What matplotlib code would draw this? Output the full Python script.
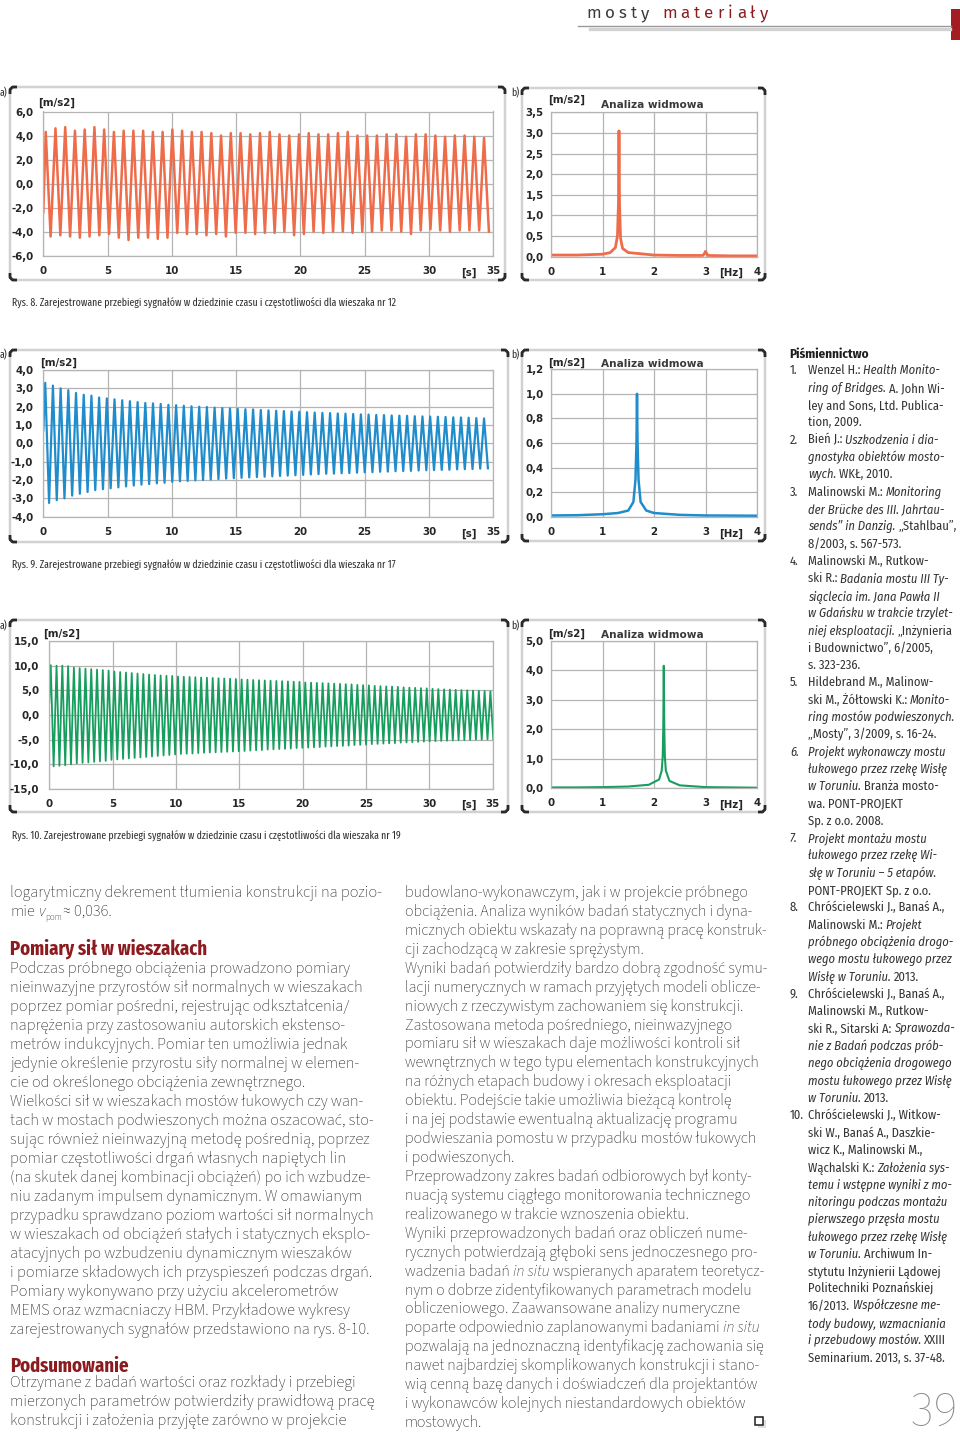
import numpy as np
import matplotlib
matplotlib.use("Agg")
import matplotlib.pyplot as plt
from matplotlib.patches import FancyBboxPatch, Rectangle

plt.rcParams['font.family'] = ['DejaVu Sans']

W, H = 960, 1435

# ---------------- data ----------------
# Rys. 8 - wieszak nr 12 (1,32 Hz)
freq8 = 1.32
start8 = -2.4
peaks8 = [4.3, 4.6, 4.7, 4.4, 4.5, 4.7, 4.5, 4.3, 4.4, 4.4,
          4.4, 4.3, 4.3, 4.5, 4.4, 4.3, 4.3, 4.2, 4.0, 4.2,
          4.2, 4.1, 4.2, 4.3, 4.1, 4.0, 4.1, 4.2, 4.1, 4.1,
          4.2, 4.3, 4.0, 4.0, 4.0, 4.1, 4.1, 3.9, 4.1, 4.1,
          4.0, 3.9, 4.0, 4.0, 3.9, 3.8]
troughs8 = [-4.4, -4.3, -4.4, -4.5, -4.4, -4.3, -4.2, -4.5, -4.7, -4.5,
            -4.5, -4.6, -4.5, -4.1, -4.2, -4.2, -4.3, -4.2, -4.4, -4.1,
            -4.1, -4.2, -4.1, -4.1, -4.0, -4.3, -4.2, -4.0, -4.1, -4.0,
            -4.0, -4.1, -4.0, -4.0, -3.9, -3.9, -4.0, -4.2, -3.9, -3.8,
            -3.9, -4.0, -3.9, -3.9, -3.9, -4.0]
spec8_f = [0, 0.5, 1.0, 1.15, 1.25, 1.29, 1.31, 1.32, 1.33, 1.35, 1.39, 1.5, 2.0, 2.5,
           2.95, 2.98, 3.0, 3.02, 3.05, 3.5, 4.0]
spec8_a = [0.04, 0.04, 0.06, 0.1, 0.22, 0.5, 1.3, 3.05, 1.3, 0.45, 0.2, 0.1, 0.04, 0.03,
           0.03, 0.08, 0.13, 0.08, 0.03, 0.02, 0.02]

# Rys. 9 - wieszak nr 17 (1,67 Hz)
freq9 = 1.67
start9 = 0.7
peaks9 = [3.30, 3.15, 3.00, 2.90, 2.75, 2.65, 2.60, 2.50, 2.45, 2.40,
          2.35, 2.30, 2.25, 2.20, 2.18, 2.15, 2.10, 2.08, 2.05, 2.02,
          2.00, 1.98, 1.95, 1.92, 1.90, 1.88, 1.86, 1.85, 1.82, 1.80,
          1.78, 1.76, 1.74, 1.72, 1.70, 1.68, 1.66, 1.65, 1.63, 1.62,
          1.60, 1.58, 1.57, 1.55, 1.54, 1.52, 1.51, 1.50, 1.48, 1.47,
          1.46, 1.45, 1.44, 1.42, 1.41, 1.40, 1.38, 1.36]
troughs9 = [-3.25, -3.10, -3.00, -2.85, -2.75, -2.65, -2.55, -2.50, -2.45, -2.40,
            -2.35, -2.30, -2.25, -2.22, -2.18, -2.15, -2.10, -2.07, -2.05, -2.02,
            -2.00, -1.97, -1.95, -1.92, -1.90, -1.88, -1.86, -1.84, -1.82, -1.80,
            -1.78, -1.76, -1.74, -1.72, -1.70, -1.68, -1.66, -1.65, -1.63, -1.62,
            -1.60, -1.58, -1.57, -1.55, -1.54, -1.52, -1.51, -1.50, -1.48, -1.47,
            -1.46, -1.45, -1.44, -1.42, -1.41, -1.40, -1.38, -1.36]
spec9_f = [0, 0.5, 1.0, 1.3, 1.5, 1.6, 1.64, 1.66, 1.67, 1.68, 1.70, 1.74, 1.85, 2.0, 2.5, 3.0, 4.0]
spec9_a = [0.01, 0.012, 0.02, 0.03, 0.05, 0.12, 0.3, 0.6, 1.0, 0.6, 0.3, 0.12, 0.05, 0.03, 0.015, 0.01, 0.008]

# Rys. 10 - wieszak nr 19 (2,19 Hz)
freq10 = 2.19
start10 = 2.5
peaks10 = [10.1, 10.0, 10.0, 9.9, 9.6, 9.5, 9.4, 9.3, 9.2, 9.1, 9.0,
           8.8, 8.7, 8.6, 8.5, 8.4, 8.3, 8.2, 8.1, 8.0, 7.95, 7.9,
           7.8, 7.75, 7.7, 7.65, 7.6, 7.55, 7.5, 7.45, 7.4, 7.35, 7.3,
           7.2, 7.15, 7.1, 7.05, 7.0, 6.95, 6.9, 6.85, 6.8, 6.75, 6.7,
           6.6, 6.55, 6.5, 6.45, 6.4, 6.35, 6.3, 6.25, 6.2, 6.1, 6.05,
           6.0, 5.9, 5.85, 5.8, 5.75, 5.7, 5.6, 5.55, 5.5, 5.45, 5.4,
           5.3, 5.25, 5.2, 5.15, 5.1, 5.05, 5.0, 4.95, 4.9, 4.85, 4.8]
troughs10 = [-10.4, -10.3, -10.2, -10.0, -9.8, -9.7, -9.6, -9.5, -9.4, -9.3, -9.1,
             -9.0, -8.9, -8.8, -8.7, -8.6, -8.5, -8.4, -8.3, -8.2, -8.1, -8.0,
             -7.9, -7.85, -7.8, -7.7, -7.65, -7.6, -7.55, -7.5, -7.45, -7.4, -7.35,
             -7.3, -7.2, -7.15, -7.1, -7.0, -6.95, -6.9, -6.85, -6.8, -6.7, -6.65,
             -6.6, -6.55, -6.5, -6.4, -6.35, -6.3, -6.25, -6.2, -6.1, -6.05, -6.0,
             -5.9, -5.85, -5.8, -5.75, -5.7, -5.6, -5.55, -5.5, -5.45, -5.4, -5.35,
             -5.3, -5.25, -5.2, -5.15, -5.1, -5.1, -5.05, -5.0, -5.0, -4.95, -4.9]
spec10_f = [0, 0.5, 1.0, 1.5, 1.9, 2.1, 2.15, 2.17, 2.18, 2.19, 2.2, 2.21, 2.23, 2.3, 2.5, 3.0, 4.0]
spec10_a = [0.03, 0.03, 0.04, 0.06, 0.12, 0.3, 0.6, 1.1, 2.0, 4.15, 2.0, 1.1, 0.6, 0.25, 0.1, 0.04, 0.02]

time_ticks = [0, 5, 10, 15, 20, 25, 30, 35]
freq_ticks = [0, 1, 2, 3, 4]
yticks8 = [-6, -4, -2, 0, 2, 4, 6]
yticks8s = [0, 0.5, 1.0, 1.5, 2.0, 2.5, 3.0, 3.5]
yticks9 = [-4, -3, -2, -1, 0, 1, 2, 3, 4]
yticks9s = [0, 0.2, 0.4, 0.6, 0.8, 1.0, 1.2]
yticks10 = [-15, -10, -5, 0, 5, 10, 15]
yticks10s = [0, 1, 2, 3, 4, 5]
peak_labels = ["1,32", "1,67", "2,19"]

captions = [
    "Rys. 8. Zarejestrowane przebiegi sygnałów w dziedzinie czasu i częstotliwości dla wieszaka nr 12",
    "Rys. 9. Zarejestrowane przebiegi sygnałów w dziedzinie czasu i częstotliwości dla wieszaka nr 17",
    "Rys. 10. Zarejestrowane przebiegi sygnałów w dziedzinie czasu i częstotliwości dla wieszaka nr 19",
]

# '|' toggles italic
col1_top = ["logarytmiczny dekrement tłumienia konstrukcji na pozio-"]
col1_p1 = [
    "Podczas próbnego obciążenia prowadzono pomiary",
    "nieinwazyjne przyrostów sił normalnych w wieszakach",
    "poprzez pomiar pośredni, rejestrując odkształcenia/",
    "naprężenia przy zastosowaniu autorskich ekstenso-",
    "metrów indukcyjnych. Pomiar ten umożliwia jednak",
    "jedynie określenie przyrostu siły normalnej w elemen-",
    "cie od określonego obciążenia zewnętrznego.",
    "Wielkości sił w wieszakach mostów łukowych czy wan-",
    "tach w mostach podwieszonych można oszacować, sto-",
    "sując również nieinwazyjną metodę pośrednią, poprzez",
    "pomiar częstotliwości drgań własnych napiętych lin",
    "(na skutek danej kombinacji obciążeń) po ich wzbudze-",
    "niu zadanym impulsem dynamicznym. W omawianym",
    "przypadku sprawdzano poziom wartości sił normalnych",
    "w wieszakach od obciążeń stałych i statycznych eksplo-",
    "atacyjnych po wzbudzeniu dynamicznym wieszaków",
    "i pomiarze składowych ich przyspieszeń podczas drgań.",
    "Pomiary wykonywano przy użyciu akcelerometrów",
    "MEMS oraz wzmacniaczy HBM. Przykładowe wykresy",
    "zarejestrowanych sygnałów przedstawiono na rys. 8-10.",
]
col1_p2 = [
    "Otrzymane z badań wartości oraz rozkłady i przebiegi",
    "mierzonych parametrów potwierdziły prawidłową pracę",
    "konstrukcji i założenia przyjęte zarówno w projekcie",
]
col2 = [
    "budowlano-wykonawczym, jak i w projekcie próbnego",
    "obciążenia. Analiza wyników badań statycznych i dyna-",
    "micznych obiektu wskazały na poprawną pracę konstruk-",
    "cji zachodzącą w zakresie sprężystym.",
    "Wyniki badań potwierdziły bardzo dobrą zgodność symu-",
    "lacji numerycznych w ramach przyjętych modeli oblicze-",
    "niowych z rzeczywistym zachowaniem się konstrukcji.",
    "Zastosowana metoda pośredniego, nieinwazyjnego",
    "pomiaru sił w wieszakach daje możliwości kontroli sił",
    "wewnętrznych w tego typu elementach konstrukcyjnych",
    "na różnych etapach budowy i okresach eksploatacji",
    "obiektu. Podejście takie umożliwia bieżącą kontrolę",
    "i na jej podstawie ewentualną aktualizację programu",
    "podwieszania pomostu w przypadku mostów łukowych",
    "i podwieszonych.",
    "Przeprowadzony zakres badań odbiorowych był konty-",
    "nuacją systemu ciągłego monitorowania technicznego",
    "realizowanego w trakcie wznoszenia obiektu.",
    "Wyniki przeprowadzonych badań oraz obliczeń nume-",
    "rycznych potwierdzają głęboki sens jednoczesnego pro-",
    "wadzenia badań |in situ| wspieranych aparatem teoretycz-",
    "nym o dobrze zidentyfikowanych parametrach modelu",
    "obliczeniowego. Zaawansowane analizy numeryczne",
    "poparte odpowiednio zaplanowanymi badaniami |in situ",
    "pozwalają na jednoznaczną identyfikację zachowania się",
    "nawet najbardziej skomplikowanych konstrukcji i stano-",
    "wią cenną bazę danych i doświadczeń dla projektantów",
    "i wykonawców kolejnych niestandardowych obiektów",
    "mostowych.",
]
refs = [
    ("1.", ["Wenzel H.: |Health Monito-", "|ring of Bridges.| A. John Wi-",
            "ley and Sons, Ltd. Publica-", "tion, 2009."]),
    ("2.", ["Bień J.: |Uszkodzenia i dia-", "|gnostyka obiektów mosto-", "|wych.| WKŁ, 2010."]),
    ("3.", ["Malinowski M.: |Monitoring", "|der Brücke des III. Jahrtau-",
            "|sends” in Danzig.| „Stahlbau”,", "8/2003, s. 567-573."]),
    ("4.", ["Malinowski M., Rutkow-", "ski R.: |Badania mostu III Ty-", "|siąclecia im. Jana Pawła II",
            "|w Gdańsku w trakcie trzylet-", "|niej eksploatacji.| „Inżynieria",
            "i Budownictwo”, 6/2005,", "s. 323-236."]),
    ("5.", ["Hildebrand M., Malinow-", "ski M., Żółtowski K.: |Monito-",
            "|ring mostów podwieszonych.", "„Mosty”, 3/2009, s. 16-24."]),
    ("|6.", ["|Projekt wykonawczy mostu", "|łukowego przez rzekę Wisłę", "|w Toruniu.| Branża mosto-",
             "wa. PONT-PROJEKT", "Sp. z o.o. 2008."]),
    ("|7.", ["|Projekt montażu mostu", "|łukowego przez rzekę Wi-", "|słę w Toruniu – 5 etapów.",
             "PONT-PROJEKT Sp. z o.o."]),
    ("8.", ["Chróścielewski J., Banaś A.,", "Malinowski M.: |Projekt", "|próbnego obciążenia drogo-",
            "|wego mostu łukowego przez", "|Wisłę w Toruniu.| 2013."]),
    ("9.", ["Chróścielewski J., Banaś A.,", "Malinowski M., Rutkow-", "ski R., Sitarski A: |Sprawozda-",
            "|nie z Badań podczas prób-", "|nego obciążenia drogowego", "|mostu łukowego przez Wisłę",
            "|w Toruniu.| 2013."]),
    ("10.", ["Chróścielewski J., Witkow-", "ski W., Banaś A., Daszkie-", "wicz K., Malinowski M.,",
             "Wąchalski K.: |Założenia sys-", "|temu i wstępne wyniki z mo-", "|nitoringu podczas montażu",
             "|pierwszego przęsła mostu", "|łukowego przez rzekę Wisłę", "|w Toruniu.| Archiwum In-",
             "stytutu Inżynierii Lądowej", "Politechniki Poznańskiej", "16/2013. |Współczesne me-",
             "|tody budowy, wzmacniania", "|i przebudowy mostów.| XXIII", "Seminarium. 2013, s. 37-48."]),
]

# ---------------- fonts / styles ----------------
BODY = dict(fontfamily=['Source Sans 3', 'Source Sans Pro', 'Fira Sans', 'DejaVu Sans'],
            fontsize=11.75, fontweight=500, color='#262626')
BODY2 = dict(BODY, fontsize=11.45)
HEAD = dict(fontfamily=['Fira Sans Extra Condensed', 'Barlow Condensed', 'DejaVu Sans'],
            fontsize=14.6, fontweight='bold', color='#8c1b1f')
CAPT = dict(fontfamily=['Fira Sans Extra Condensed', 'Barlow Condensed', 'DejaVu Sans'],
            fontsize=7.7, color='#333333')
REF = dict(fontfamily=['Fira Sans Condensed', 'Fira Sans', 'DejaVu Sans'],
           fontsize=9.0, color='#333333')
CHART = dict(fontfamily=['DejaVu Sans'], fontsize=7.4, fontweight='bold', color='#262626')
GRID = '#b4b4b4'

fig = plt.figure(figsize=(W / 100, H / 100), dpi=100)
page = fig.add_axes([0, 0, 1, 1])
page.set_xlim(0, W)
page.set_ylim(H, 0)
page.axis('off')
renderer = fig.canvas.get_renderer()

_space = {}


def text_w(s, style):
    t = page.text(0, 0, s, **style)
    w = t.get_window_extent(renderer).width
    t.remove()
    return w


def space_w(style):
    key = repr(sorted(style.items()))
    if key not in _space:
        _space[key] = text_w("x x", style) - text_w("xx", style)
    return _space[key]


def draw_parts(x, y, parts, base):
    for s, extra in parts:
        style = dict(base)
        style.update(extra)
        dy = style.pop('dy', 0)
        sw = space_w(style)
        x += (len(s) - len(s.lstrip(' '))) * sw
        core = s.strip(' ')
        if core:
            t = page.text(x, y + dy, core, ha='left', va='baseline', **style)
            x += t.get_window_extent(renderer).width
        x += (len(s) - len(s.rstrip(' '))) * sw
    return x


def rich(x, y, s, base):
    parts = [(p, {'fontstyle': 'italic'} if i % 2 else {}) for i, p in enumerate(s.split('|')) if p]
    return draw_parts(x, y, parts, base)


def px_axes(x0, y0, x1, y1):
    return fig.add_axes([x0 / W, 1 - y1 / H, (x1 - x0) / W, (y1 - y0) / H])


def frame(x0, y0, x1, y1):
    page.add_patch(FancyBboxPatch((x0, y0), x1 - x0, y1 - y0,
                                  boxstyle="round,pad=0,rounding_size=6",
                                  fc='white', ec='#d2d2d2', lw=1.8))
    c = 7
    for cx, cy, sx, sy in [(x0, y0, 1, 1), (x1, y0, -1, 1), (x0, y1, 1, -1), (x1, y1, -1, -1)]:
        page.plot([cx, cx, cx + sx * 2.5, cx + sx * c], [cy + sy * c, cy + sy * 2.5, cy, cy],
                  color='#2a2a2a', lw=2.0, solid_capstyle='butt')


def fmt(v):
    return f"{v:.1f}".replace('.', ',')


def style_axes(ax, xlim, xticks, yticks, ypad):
    ax.set_xlim(*xlim)
    ax.set_ylim(yticks[0], yticks[-1])
    ax.set_xticks(xticks)
    ax.set_xticklabels([str(v) for v in xticks], **CHART)
    ax.set_yticks(yticks)
    ax.set_yticklabels([fmt(v) for v in yticks], **CHART)
    ax.tick_params(length=0)
    ax.tick_params(axis='x', pad=7.2)
    ax.tick_params(axis='y', pad=ypad)
    ax.grid(True, color=GRID, lw=0.9)
    ax.set_axisbelow(True)
    for sp in ax.spines.values():
        sp.set_color(GRID)
        sp.set_linewidth(0.9)


def zigzag(freq, start, peaks, troughs):
    t, y = [0.0], [start]
    for k, (p, q) in enumerate(zip(peaks, troughs)):
        t += [(k + 0.25) / freq, (k + 0.75) / freq]
        y += [p, q]
    return t, y


# ---------------- header ----------------
HDR = dict(fontfamily=['Fira Sans', 'DejaVu Sans'], fontsize=12.2)
head = "mosty materiały"
sp_w = space_w(HDR)
ws = [text_w(ch, HDR) if ch != ' ' else sp_w for ch in head]
track = (768 - 586 - sum(ws)) / (len(head) - 1)
hx = 586
for i, ch in enumerate(head):
    if ch != ' ':
        page.text(hx, 18.5, ch, ha='left', va='baseline', color='#3a3a3a' if i < 5 else '#8c1b1f', **HDR)
    hx += ws[i] + track
page.plot([578, 951], [26, 26], color='#9a9a9a', lw=1.0)
page.plot([590, 950], [28.6, 28.6], color='#d2d2d2', lw=2.4)
page.add_patch(Rectangle((951, 9), 9, 31, color='#a31d22', lw=0))

# ---------------- charts ----------------
rows = [
    dict(fa=(10, 87, 505, 280), fb=(522, 88, 765, 280), aa=(43.3, 111.5, 493.3, 255.7),
         ab=(551, 112.3, 757, 256.7), ly=96, unit_a=(38, 106), unit_b=(548, 103), title_y=108,
         sig=zigzag(freq8, start8, peaks8, troughs8), spec=(spec8_f, spec8_a),
         yt=yticks8, yts=yticks8s, col='#ef6c4a', lw=1.8, peak=(625, 148), tick_y=276, cap_y=307),
    dict(fa=(10, 350, 508, 542), fb=(522, 350, 765, 541), aa=(43.3, 370, 493.3, 516.7),
         ab=(551, 369.3, 757, 516.7), ly=358, unit_a=(40, 366), unit_b=(548, 366), title_y=367,
         sig=zigzag(freq9, start9, peaks9, troughs9), spec=(spec9_f, spec9_a),
         yt=yticks9, yts=yticks9s, col='#1f8ccc', lw=1.6, peak=(608, 410), tick_y=537, cap_y=569),
    dict(fa=(10, 620, 508, 812), fb=(522, 620, 765, 812), aa=(49.3, 641, 492.7, 789),
         ab=(551, 640.7, 757, 788.3), ly=629, unit_a=(43, 637), unit_b=(548, 637), title_y=638,
         sig=zigzag(freq10, start10, peaks10, troughs10), spec=(spec10_f, spec10_a),
         yt=yticks10, yts=yticks10s, col='#179e5e', lw=1.3, peak=(676, 681), tick_y=808, cap_y=840),
]

for i, r in enumerate(rows):
    frame(*r['fa'])
    frame(*r['fb'])
    page.text(0, r['ly'], "a)", ha='left', va='baseline', **CAPT)
    page.text(511, r['ly'], "b)", ha='left', va='baseline', **CAPT)

    ax = px_axes(*r['aa'])
    t, y = r['sig']
    ax.plot(t, y, color=r['col'], lw=r['lw'], solid_joinstyle='round')
    style_axes(ax, (0, 35), time_ticks, r['yt'], 7.2)

    bx = px_axes(*r['ab'])
    f, a = r['spec']
    bx.plot(f, a, color=r['col'], lw=r['lw'] + 0.2, solid_joinstyle='round')
    style_axes(bx, (0, 4), freq_ticks, r['yts'], 5.3)

    page.text(r['unit_a'][0], r['unit_a'][1], "[m/s2]", ha='left', va='baseline', **CHART)
    page.text(r['unit_b'][0], r['unit_b'][1], "[m/s2]", ha='left', va='baseline', **CHART)
    page.text(652, r['title_y'], "Analiza widmowa", ha='center', va='baseline',
              fontfamily=['DejaVu Sans'], fontsize=7.6, fontweight='bold', color='#3a3a3a')
    page.text(r['peak'][0], r['peak'][1], peak_labels[i], ha='left', va='baseline', **CHART)
    page.text(469, r['tick_y'], "[s]", ha='center', va='baseline', **CHART)
    page.text(731, r['tick_y'], "[Hz]", ha='center', va='baseline', **CHART)
    page.text(12, r['cap_y'], captions[i], ha='left', va='baseline', **CAPT)

# ---------------- body text ----------------
for k, s in enumerate(col1_top):
    rich(10, 897 + 19 * k, s, BODY)
draw_parts(10, 916, [("mie ", {}), ("v", {'fontstyle': 'italic'}),
                     ("pom ", {'fontsize': 6.5, 'dy': 4}), ("≈ 0,036.", {})], BODY)
page.text(10, 955, "Pomiary sił w wieszakach", ha='left', va='baseline', **HEAD)
for k, s in enumerate(col1_p1):
    rich(10, 973 + 19.0 * k, s, BODY)
page.text(10, 1372, "Podsumowanie", ha='left', va='baseline', **HEAD)
for k, s in enumerate(col1_p2):
    rich(10, 1387 + 19.0 * k, s, BODY)
for k, s in enumerate(col2):
    rich(405, 897 + 18.93 * k, s, BODY2)

# end mark
page.add_patch(Rectangle((757.5, 1419.5), 8, 8, fc='#e0e0e0', ec='none'))
page.add_patch(Rectangle((755, 1417), 8, 8, fc='white', ec='#1e1e1e', lw=1.1))

# ---------------- references ----------------
page.text(789, 358, "Piśmiennictwo", ha='left', va='baseline',
          fontfamily=['Fira Sans Condensed', 'Fira Sans', 'DejaVu Sans'], fontsize=9.4,
          fontweight='bold', color='#1e1e1e')
line = 0
for num, lines in refs:
    for j, s in enumerate(lines):
        yy = 374.5 + 17.32 * line
        if j == 0:
            rich(790, yy, num, REF)
        rich(808, yy, s, REF)
        line += 1

page.text(958, 1426, "39", ha='right', va='baseline', fontfamily=['Fira Sans', 'DejaVu Sans'],
          fontsize=35, fontweight=250, color='#8a8a8a')

fig.savefig("out.png", dpi=100)
